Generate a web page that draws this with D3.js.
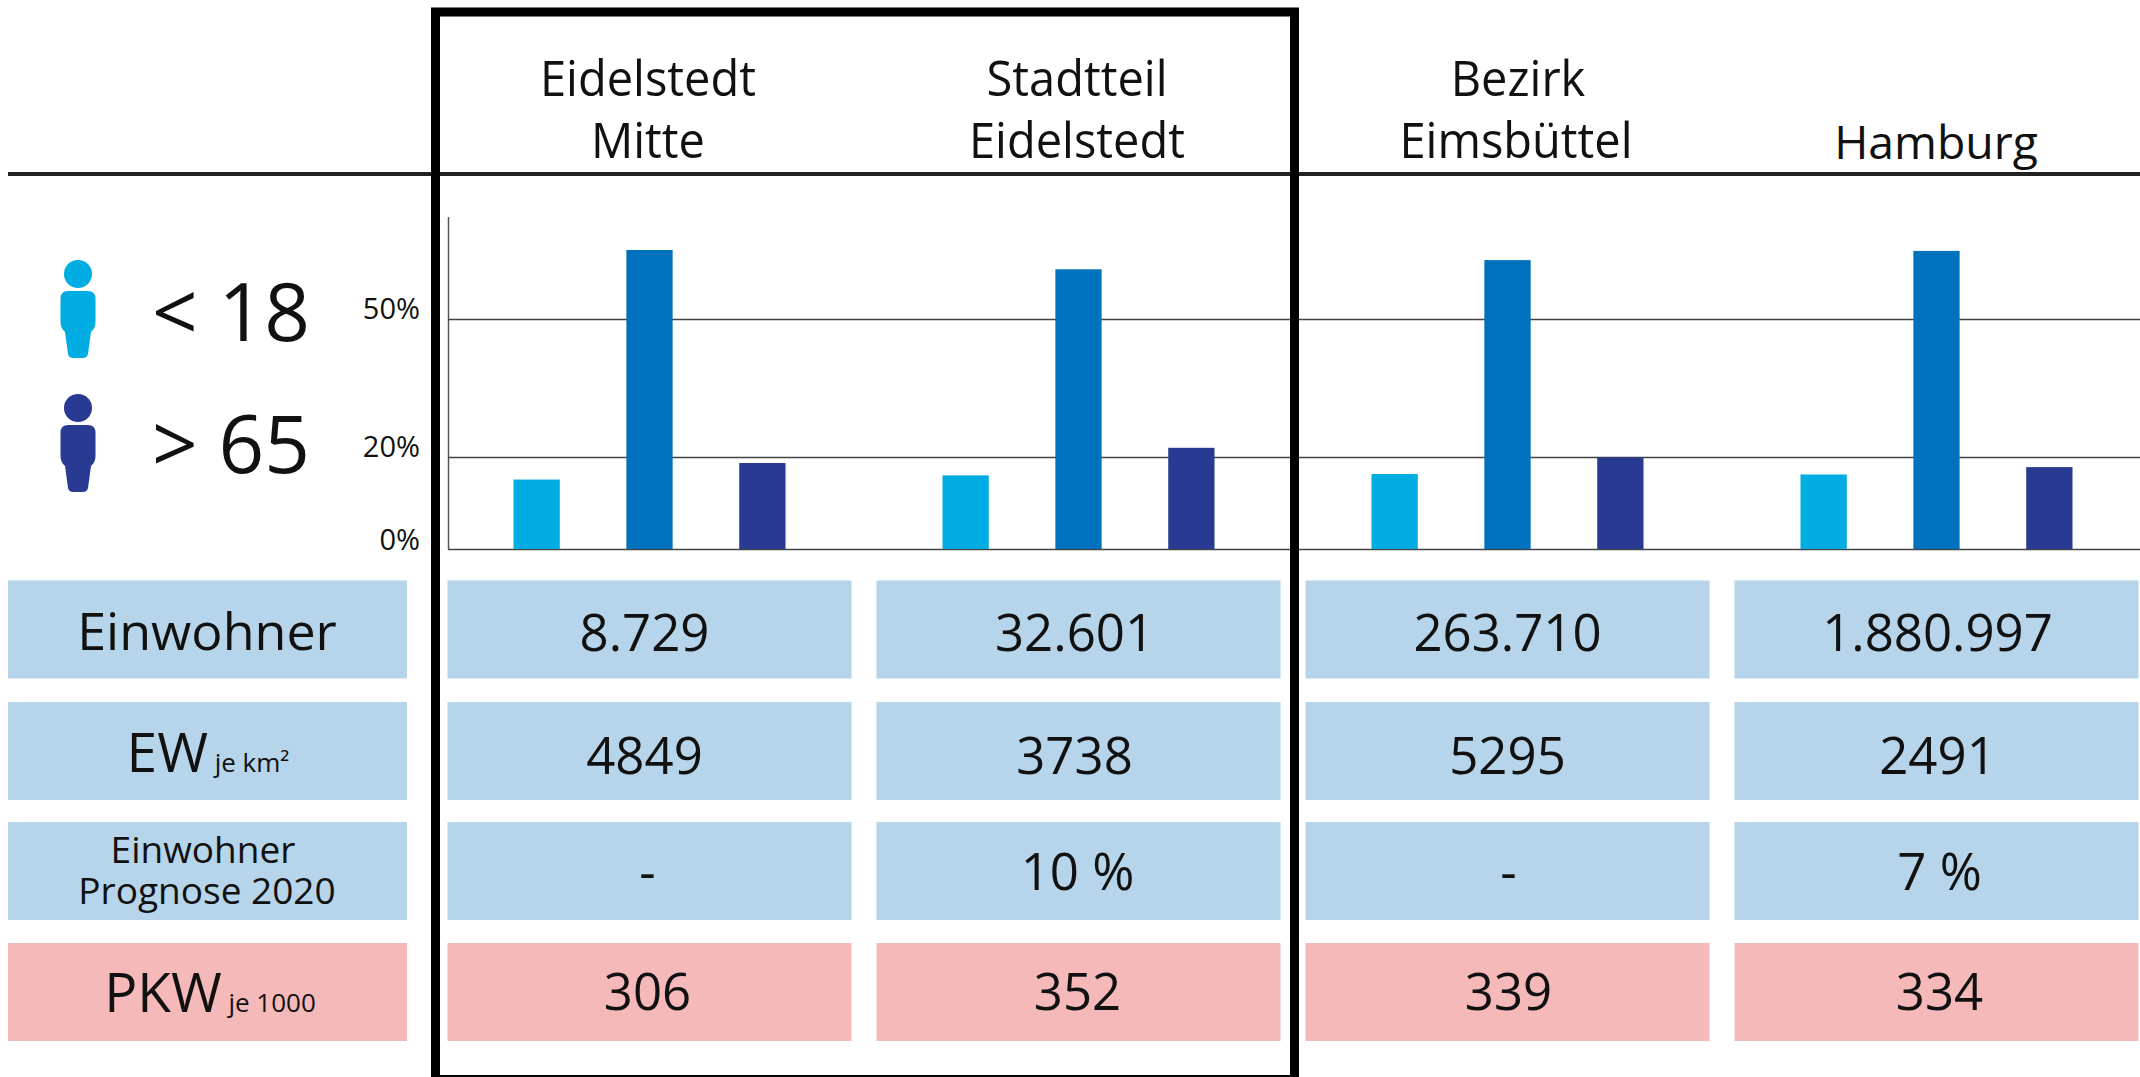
<!DOCTYPE html>
<html>
<head>
<meta charset="utf-8">
<script src="https://cdn.jsdelivr.net/npm/d3@7"></script>
<style>
  html, body { margin: 0; padding: 0; background: #fff; }
  svg { display: block; }
  text { font-family: "Open Sans", sans-serif; fill: #111; }
</style>
</head>
<body>
<div id="chart"></div>
<script>
const areas = ["Eidelstedt Mitte", "Stadtteil Eidelstedt", "Bezirk Eimsbüttel", "Hamburg"];
const ageGroups = ["unter 18", "18 bis 65", "über 65"];
const under18 = [15.1, 16.0, 16.3, 16.2];
const middle = [65.0, 60.8, 62.8, 64.8];
const over65 = [18.7, 22.0, 19.9, 17.8];
const axisTicks = [0, 20, 50];
const einwohner = ["8.729", "32.601", "263.710", "1.880.997"];
const dichte = ["4849", "3738", "5295", "2491"];
const prognose = ["-", "10 %", "-", "7 %"];
const pkw = ["306", "352", "339", "334"];

const width = 2140, height = 1077;
const blue = "#b6d5ea", pink = "#f5b9ba";
const barColors = ["#00ade2", "#0071bc", "#283a92"];

const svg = d3.select("#chart")
  .append("svg")
  .attr("width", width)
  .attr("height", height)
  .attr("viewBox", [0, 0, width, height]);

// narrow text a bit, the original font is more condensed than Open Sans
const label = (t, cx, base, size, squeeze = 1) =>
  svg.append("text")
    .text(t)
    .attr("transform", `translate(${cx},${base}) scale(${squeeze},1)`)
    .attr("text-anchor", "middle")
    .attr("font-size", size);

// columns
let x = d3.scaleBand().domain(areas).range([435, 2151]);
let xAge = d3.scaleBand().domain(ageGroups).range([-136, 136]).paddingInner(0.59);
let y = d3.scaleLinear().domain([0, 72.3]).range([549, 216.4]);

// axis
let axis = svg.append("g")
  .attr("transform", "translate(448,0)")
  .call(d3.axisLeft(y).tickValues(axisTicks).tickSize(-1692).tickSizeOuter(0).tickPadding(28).tickFormat(d => d + "%"));
axis.select(".domain").attr("stroke", "#555").attr("stroke-width", 1.5);
axis.selectAll(".tick line").attr("stroke", "#444").attr("stroke-width", 1.5);
axis.selectAll(".tick text")
  .attr("font-size", 29)
  .attr("dy", 0)
  .style("font-family", '"Open Sans", sans-serif');

// bars
let series = ageGroups.map((g, i) => ({ group: g, color: barColors[i], values: [under18, middle, over65][i] }));
for (let s of series) {
  svg.append("g")
    .selectAll("rect")
    .data(s.values)
    .join("rect")
    .attr("x", (d, i) => x(areas[i]) + x.bandwidth() / 2 + xAge(s.group))
    .attr("y", d => y(d))
    .attr("width", xAge.bandwidth())
    .attr("height", d => y(0) - y(d))
    .attr("fill", s.color);
}

// header
label("Eidelstedt", 648, 96, 50, 0.94);
label("Mitte", 648, 158, 50, 0.94);
label("Stadtteil", 1077, 96, 50, 0.94);
label("Eidelstedt", 1077, 158, 50, 0.94);
label("Bezirk", 1518, 96, 50, 0.94);
label("Eimsbüttel", 1516, 158, 50, 0.94);
label("Hamburg", 1936, 159, 45, 1.03);

svg.append("line")
  .attr("x1", 8).attr("x2", 2140)
  .attr("y1", 174).attr("y2", 174)
  .attr("stroke", "#222").attr("stroke-width", 4);

// table rows, shift moves the numbers a little off the cell centre as in the original
const rows = [
  { values: einwohner, fill: blue, top: 580.5, base: 651, shift: [-5, -4, 0, 1] },
  { values: dichte, fill: blue, top: 702, base: 774, shift: [-5, -4, 0, 1] },
  { values: prognose, fill: blue, top: 822, base: 890, shift: [-2, -1, 1, 3] },
  { values: pkw, fill: pink, top: 943, base: 1010, shift: [-2, -1, 1, 3] }
];
for (let r of rows) {
  svg.append("rect")
    .attr("x", 8).attr("y", r.top)
    .attr("width", 399).attr("height", 98)
    .attr("fill", r.fill);
  r.values.forEach((v, i) => {
    let cx = x(areas[i]) + x.bandwidth() / 2;
    svg.append("rect")
      .attr("x", cx - 202)
      .attr("y", r.top)
      .attr("width", 404).attr("height", 98)
      .attr("fill", r.fill);
    label(v, cx + r.shift[i], r.base, 52, 0.98);
  });
}

// row labels
label("Einwohner", 207, 650, 52);
let ew = svg.append("text").attr("x", 208).attr("y", 772).attr("text-anchor", "middle");
ew.append("tspan").text("EW").attr("font-size", 55);
ew.append("tspan").text(" je km²").attr("font-size", 26);
label("Einwohner", 203, 863, 37);
label("Prognose 2020", 207, 904, 37);
let kw = svg.append("text").attr("x", 210).attr("y", 1012).attr("text-anchor", "middle");
kw.append("tspan").text("PKW").attr("font-size", 55);
kw.append("tspan").text(" je 1000").attr("font-size", 26);

// person icons of the legend
const person = (cy, color) => {
  let g = svg.append("g").attr("transform", `translate(78,${cy})`).attr("fill", color);
  g.append("circle").attr("cx", 0).attr("cy", 0).attr("r", 14);
  g.append("path").attr("d", "M-10,17 Q-17.5,17 -17.5,25 L-17.5,48 Q-17.5,54 -13,58 L-10,80 Q-9,84 -5,84 L5,84 Q9,84 10,80 L13,58 Q17.5,54 17.5,48 L17.5,25 Q17.5,17 10,17 Z");
};
person(274, barColors[0]);
person(408, barColors[2]);

svg.append("text").text("< 18")
  .attr("x", 152).attr("y", 341).attr("font-size", 80);
svg.append("text").text("> 65")
  .attr("x", 152).attr("y", 473).attr("font-size", 80);

// black frame, its lower edge runs off the picture
svg.append("rect")
  .attr("x", 435.5).attr("y", 12)
  .attr("width", 859).attr("height", 1067.5)
  .attr("fill", "none")
  .attr("stroke", "#000")
  .attr("stroke-width", 9);
</script>
</body>
</html>
